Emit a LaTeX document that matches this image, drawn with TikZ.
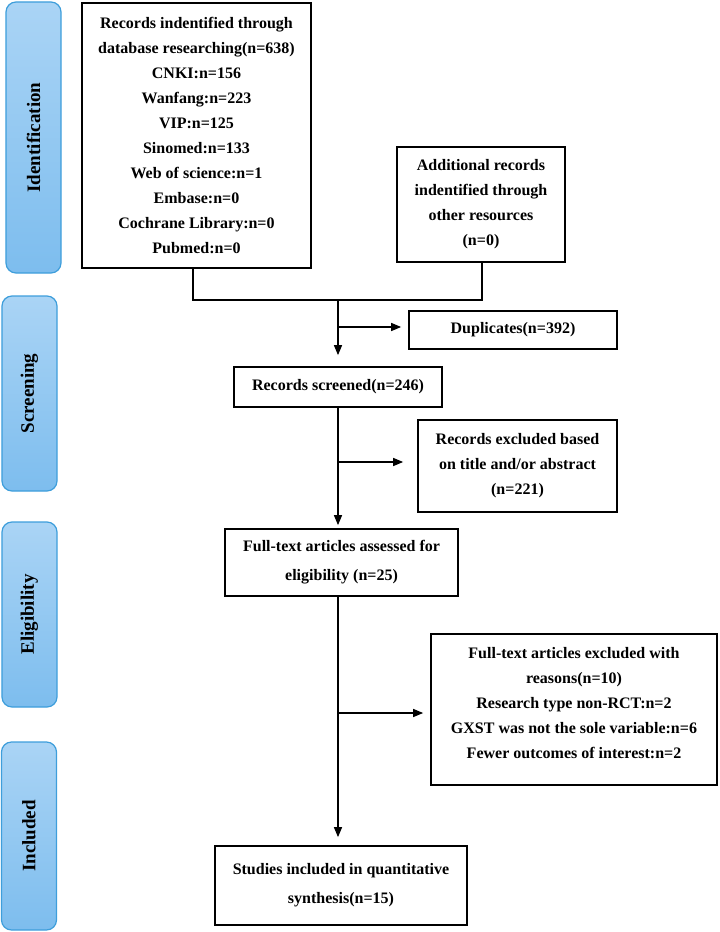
\documentclass[tikz,border=0pt]{standalone}
\usepackage{fontspec}
\setmainfont{Liberation Serif}
\usetikzlibrary{arrows.meta,calc}
\definecolor{sidetop}{HTML}{AAD4F5}
\definecolor{sidebot}{HTML}{7DBDEE}
\definecolor{sideline}{HTML}{3E9EDB}
\begin{document}
\begin{tikzpicture}[x=1bp,y=-1bp,
  box/.style={draw, line width=1.7bp, inner sep=0pt, align=center,
    font=\fontsize{16bp}{25bp}\selectfont\bfseries},
  plain/.style={inner sep=0pt, align=center,
    font=\fontsize{16bp}{25bp}\selectfont\bfseries},
  twoline/.style={font=\fontsize{16bp}{29bp}\selectfont\bfseries},
  side/.style={draw=sideline, line width=1.2bp, rounded corners=10bp,
    top color=sidetop, bottom color=sidebot, inner sep=0pt,
    minimum width=55bp},
  sidetext/.style={rotate=90, font=\fontsize{19bp}{22bp}\selectfont\bfseries},
  conn/.style={line width=1.3bp},
  arr/.style={conn, -{Triangle[length=10bp,width=8bp]}}]
\useasboundingbox (0,0) rectangle (720,932);

% side phase labels
\node[side, minimum height=271bp] (ident) at (33.5,137.5) {};
\node[sidetext] (identt) at (ident.center) {Identification};
\node[side, minimum height=195bp] (scrn) at (29.5,393.5) {};
\node[sidetext] (scrnt) at (scrn.center) {Screening};
\node[side, minimum height=185bp] (elig) at (29.5,614.5) {};
\node[sidetext] (eligt) at (elig.center) {Eligibility};
\node[side, minimum height=188bp] (incl) at (29,836) {};
\node[sidetext] (inclt) at (incl.center) {Included};

% boxes
\node[box, minimum width=229bp, minimum height=265bp] (b1) at (196.5,135.5)
  {Records indentified through\\database researching(n=638)\\CNKI:n=156\\Wanfang:n=223\\VIP:n=125\\Sinomed:n=133\\Web of science:n=1\\Embase:n=0\\Cochrane Library:n=0\\Pubmed:n=0};
\node[box, minimum width=168bp, minimum height=115bp] (b2) at (481,204.5)
  {Additional records\\indentified through\\other resources\\(n=0)};
\node[box, minimum width=208bp, minimum height=38bp] (dup) at (513,330)
  {Duplicates(n=392)};
\node[box, minimum width=208bp, minimum height=40bp] (scr) at (338,387)
  {Records screened(n=246)};
\node[box, minimum width=199bp, minimum height=92bp] (exc1) at (517.5,466)
  {Records excluded based\\on title and/or abstract\\(n=221)};
\node[box, twoline, minimum width=233bp, minimum height=67bp] (full) at (341.5,562.5)
  {Full-text articles assessed for\\eligibility (n=25)};
\node[box, minimum width=286bp, minimum height=151bp] (exc2) at (574,709.5) {};
\node[plain] (exc2t) at (574,703.5)
  {Full-text articles excluded with\\reasons(n=10)\\Research type non-RCT:n=2\\GXST was not the sole variable:n=6\\Fewer outcomes of interest:n=2};
\node[box, twoline, minimum width=252bp, minimum height=79bp] (stud) at (341,885.5)
  {Studies included in quantitative\\synthesis(n=15)};

% spine coordinates
\coordinate (sp) at (338,0);
\coordinate (b1x) at (193,0);
\coordinate (b2x) at (482,0);
\coordinate (jn) at (338,300);

% connectors
\draw[conn] (b1.south -| b1x) |- (jn) -| (b2.south -| b2x);
\draw[conn] (jn) -- (b2x |- jn);
\draw[arr, shorten >=11bp] (jn) -- (scr.north -| sp);
\draw[arr, shorten >=7bp] (sp |- 0,327) coordinate (d1) -- (dup.west |- d1);
\draw[arr, shorten >=3bp] (scr.south -| sp) -- (full.north -| sp);
\draw[arr, shorten >=14bp] (sp |- 0,462) coordinate (d2) -- (exc1.west |- d2);
\draw[arr, shorten >=8bp] (full.south -| sp) -- (stud.north -| sp);
\draw[arr, shorten >=7bp] (sp |- 0,713) coordinate (d3) -- (exc2.west |- d3);
\end{tikzpicture}
\end{document}
